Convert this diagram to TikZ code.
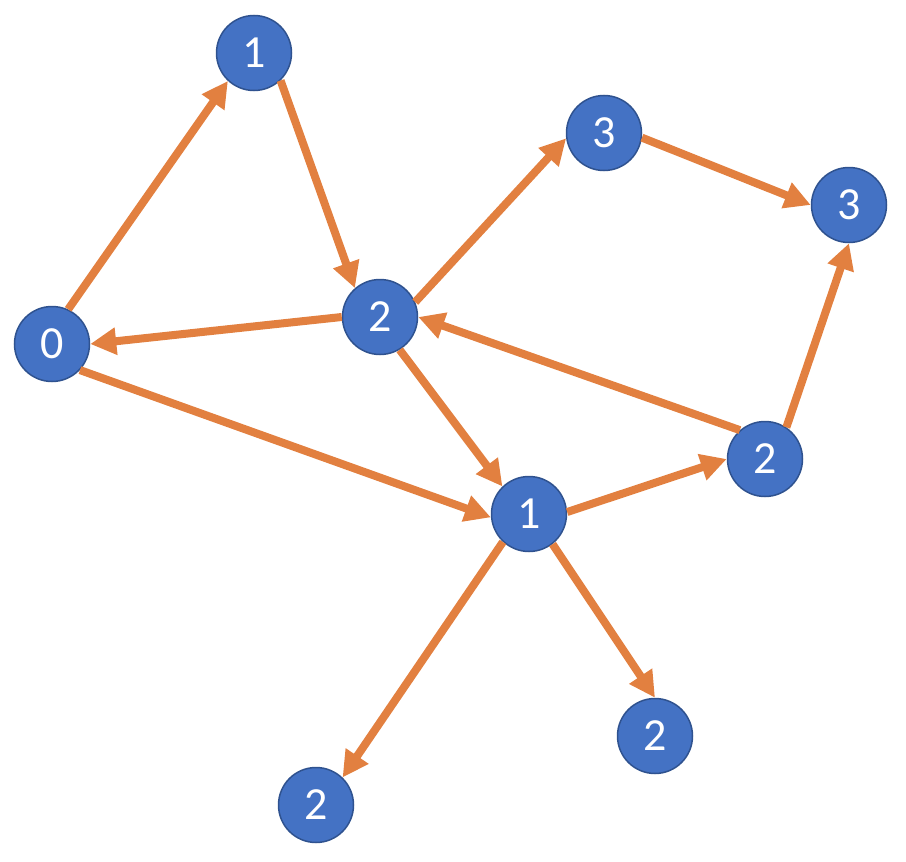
\documentclass[tikz,border=0pt]{standalone}
\usepackage{fontspec}
\setmainfont{Carlito}
\usepackage{tikz}
\usetikzlibrary{arrows.meta}
\definecolor{vblue}{RGB}{68,114,196}
\definecolor{vborder}{RGB}{47,82,143}
\definecolor{eorange}{RGB}{226,128,64}

\begin{document}
\begin{tikzpicture}[x=1pt,y=-1pt,
                    vertex/.style={circle, fill=vblue, draw=vborder, line width=1.5pt,
                                   minimum size=75pt, inner sep=0pt, text=white,
                                   font=\fontsize{46}{46}\selectfont},
                    edge/.style={draw=eorange, line width=8pt,
                                 -{Triangle[length=26pt,width=26pt]}}]
                    \useasboundingbox (0,0) rectangle (906,862);
                    \node[vertex] (n0)  at (52,344)  {0};
                    \node[vertex] (n1a) at (254,53)  {1};
                    \node[vertex] (n2a) at (380,317) {2};
                    \node[vertex] (n3a) at (604,133) {3};
                    \node[vertex] (n3b) at (849,205) {3};
                    \node[vertex] (n2b) at (765,459) {2};
                    \node[vertex] (n1b) at (529,514) {1};
                    \node[vertex] (n2c) at (655,736) {2};
                    \node[vertex] (n2d) at (316,805) {2};
                    \draw[edge] (n0.65)   -- (n1a.227);
                    \draw[edge] (n1a.-46) -- (n2a.131);
                    \draw[edge] (n2a.180) -- (n0.0);
                    \draw[edge] (n2a.23)  -- (n3a.188);
                    \draw[edge] (n3a.-7)  -- (n3b.180);
                    \draw[edge] (n2b.56)  -- (n3b.270);
                    \draw[edge] (n2b.131) -- (n2a.0);
                    \draw[edge] (n0.-43)  -- (n1b.185);
                    \draw[edge] (n2a.-59) -- (n1b.134);
                    \draw[edge] (n1b.3)   -- (n2b.180);
                    \draw[edge] (n1b.-52) -- (n2c.90);
                    \draw[edge] (n1b.227) -- (n2d.46);
                \end{tikzpicture}
\end{document}
